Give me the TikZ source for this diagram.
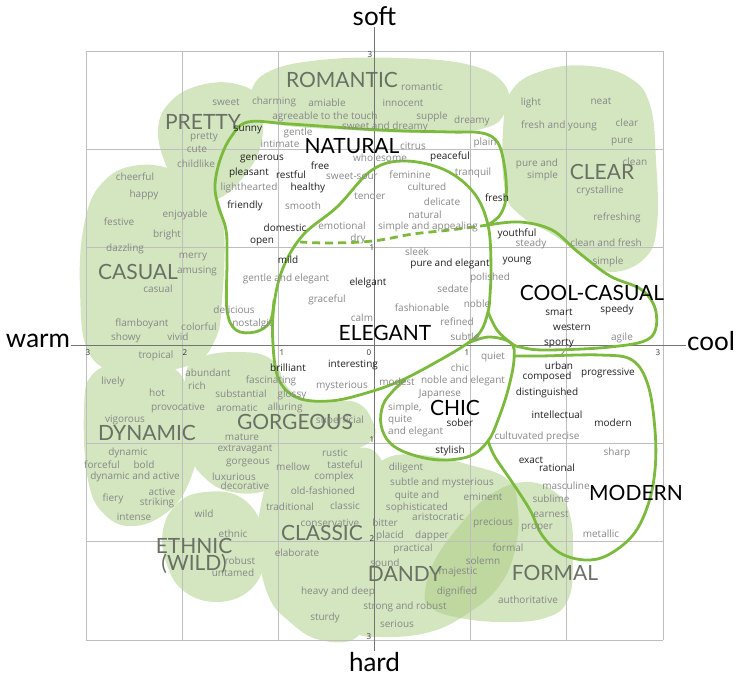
\documentclass[tikz,border=0pt]{standalone}
\usepackage{fontspec}
\setmainfont{Open Sans}
\newfontfamily\catfont{Lato}
\definecolor{blobgreen}{RGB}{212,230,192}
\definecolor{blobdark}{RGB}{190,216,160}
\definecolor{linegreen}{RGB}{124,186,62}
\definecolor{wordgray}{RGB}{135,135,135}
\definecolor{catgray}{RGB}{105,112,100}
\definecolor{gridgray}{RGB}{190,190,190}

% blob outlines (pixel coordinates, y pointing down)
\def\formalpath{plot[smooth cycle, tension=0.7] coordinates {(425,592) (435,560) (460,525) (490,495) (525,482) (555,492) (570,515) (573,560) (568,600) (545,618) (500,622) (455,617) (430,607)}}
\def\dandypath{plot[smooth cycle, tension=0.7] coordinates {(383,460) (420,455) (470,465) (508,480) (518,510) (515,550) (500,585) (470,612) (430,632) (380,637) (352,630) (340,600) (345,540) (360,490)}}

\begin{document}
\begin{tikzpicture}[x=1pt, y=-1pt,
  wd/.style={font=\fontsize{10}{12}\selectfont, text=wordgray, inner sep=0pt},
  wdk/.style={font=\fontsize{10}{12}\selectfont, text=black!88, inner sep=0pt},
  cat/.style={font=\catfont\fontsize{21}{14}\selectfont, text=catgray, inner sep=0pt},
  catk/.style={cat, text=black},
  axlab/.style={font=\catfont\fontsize{26}{26}\selectfont, inner sep=1pt},
  tick/.style={font=\fontsize{8}{8}\selectfont, text=black!80, inner sep=0pt},
  outline/.style={linegreen, line width=2.8pt, line cap=round, line join=round},
  blob/.style={fill=blobgreen}]
  \useasboundingbox (0,0) rectangle (737,677);

  % Green areas
  \fill[blob] plot[smooth cycle, tension=0.7] coordinates {(250,95) (268,72) (320,60) (400,58) (470,65) (505,85) (505,112) (485,128) (430,133) (350,130) (280,125) (255,115)}; % romantic
  \fill[blob] plot[smooth cycle, tension=0.7] coordinates {(158,130) (172,100) (205,84) (240,85) (258,100) (262,140) (245,175) (215,200) (185,195) (168,170)}; % pretty
  \fill[blob] plot[smooth cycle, tension=0.7] coordinates {(80,290) (85,220) (105,180) (140,165) (180,172) (212,190) (224,230) (222,300) (215,340) (190,365) (130,372) (90,355)}; % casual
  \fill[blob] plot[smooth cycle, tension=0.7] coordinates {(503,130) (512,90) (545,70) (590,66) (630,78) (650,105) (656,160) (657,225) (645,258) (612,272) (585,258) (555,236) (520,215) (505,190)}; % clear
  \fill[blob] plot[smooth cycle, tension=0.7] coordinates {(84,410) (92,375) (125,362) (170,366) (190,395) (198,440) (190,480) (170,510) (135,526) (105,515) (88,480)}; % dynamic
  \fill[blob] plot[smooth cycle, tension=0.7] coordinates {(185,380) (200,358) (240,352) (272,360) (290,390) (320,402) (355,402) (372,420) (372,440) (340,455) (300,468) (268,490) (232,492) (205,478) (190,450)}; % gorgeous
  \fill[blob] plot[smooth cycle, tension=0.7] coordinates {(163,530) (178,503) (205,492) (240,497) (262,525) (265,560) (250,590) (218,602) (185,592) (167,565)}; % ethnic
  \fill[blob] plot[smooth cycle, tension=0.7] coordinates {(262,500) (275,470) (310,452) (350,448) (375,452) (385,480) (372,530) (365,600) (357,637) (320,640) (290,622) (268,595) (258,545)}; % classic
  \fill[blob] \dandypath;
  \fill[blob] \formalpath;
  \begin{scope}
    \clip \formalpath;
    \fill[blobdark] \dandypath;
  \end{scope}

  % Grid
  \foreach \gx in {86,182.2,278.3,374.5,470.7,566.8,663}
    \draw[gridgray, line width=0.9pt] (\gx,51) -- (\gx,640);
  \foreach \gy in {51,149.2,247.3,345.5,443.7,541.8,640}
    \draw[gridgray, line width=0.9pt] (86,\gy) -- (663,\gy);

  % Axes
  \node[axlab] (soft) at (374.5,16) {soft};
  \node[axlab] (hard) at (374.5,662) {hard};
  \node[axlab] (warm) at (38,341) {warm};
  \node[axlab] (cool) at (711,341) {cool};
  \draw[black!55, line width=1.1pt] (warm.east |- 0,345.5) -- (cool.west |- 0,345.5);
  \draw[black!55, line width=1.1pt] (soft.south) -- (hard.north);
  \foreach \tx/\ty/\tn [count=\i] in {88/353/3, 185/353/2, 282/353/1, 369/353/0, 467/353/1, 563/353/2, 658/353/3,
      370/55/3, 372/248/1, 372/440/1, 372/539/2, 369/637/3}
    \node[tick] (t\i) at (\tx,\ty) {\tn};

  % Outlines
  \draw[outline] plot[smooth cycle, tension=0.6] coordinates {(337,207) (372,170) (405,161) (445,170) (474,193) (488,225) (491,265) (490,295) (488,312) (481,331) (468,343) (440,360) (400,381) (363,394) (330,401) (298,398) (279,380) (273,345) (274,305) (283,268) (303,235)}; % elegant
  \draw[outline] plot[smooth, tension=0.6] coordinates {(274,300) (270,322) (255,332) (236,330) (227,310) (227,260) (226,230) (218,205) (215,185) (220,160) (231,137) (248,122) (290,124) (380,130) (450,132) (482,133) (498,143) (505,170) (506,198) (500,215) (488,225)}; % natural
  \draw[outline, dash pattern=on 8pt off 5pt, line cap=butt] plot[smooth, tension=0.6] coordinates {(488,225) (450,230) (413,234) (373,241) (330,243) (300,242)};
  \draw[outline] plot[smooth, tension=0.6] coordinates {(488,225) (520,222) (552,230) (578,252) (610,276) (642,290) (656,312) (650,338) (610,347) (545,350) (520,347) (511,343) (497,330) (488,312)}; % cool-casual
  \draw[outline] plot[smooth, tension=0.6] coordinates {(468,343) (489,337) (511,343) (514,360) (508,390) (498,420) (488,441) (470,456) (440,460) (410,454) (390,443) (381,425) (383,405) (393,391) (405,380)}; % chic
  \draw[outline] plot[smooth, tension=0.6] coordinates {(514,356) (540,356) (600,355) (632,360) (648,385) (655,430) (655,470) (648,505) (633,535) (608,555) (585,560) (560,553) (542,535) (530,510) (512,482) (495,457) (488,441)}; % modern

  % Category names
  \node[cat] (romantic) at (342,80) {ROMANTIC};
  \node[cat] (pretty) at (203,122) {PRETTY};
  \node[cat] (clear) at (602,172) {CLEAR};
  \node[cat] (casual) at (138,272) {CASUAL};
  \node[cat] (dynamic) at (147,433) {DYNAMIC};
  \node[cat] (gorgeous) at (295,422) {GORGEOUS};
  \node[cat, align=center] (ethnic) at (194,556) {ETHNIC\\(WILD)};
  \node[cat] (classic) at (322,533) {CLASSIC};
  \node[cat] (dandy) at (405,574) {DANDY};
  \node[cat] (formal) at (555,573) {FORMAL};
  \node[catk] (natural) at (352,146) {NATURAL};
  \node[catk] (elegant) at (385,333) {ELEGANT};
  \node[catk] (coolcasual) at (592,293) {COOL-CASUAL};
  \node[catk] (chic) at (455,408) {CHIC};
  \node[catk] (modern) at (636,493) {MODERN};

  % Gray words
  \foreach \px/\py/\txt [count=\i] in {226/102/sweet, 274/102/charming, 204/137/pretty, 197/149/cute,
      196/164/childlike, 249/188/lighthearted, 280/144/intimate, 298/133/gentle, 135/177/cheerful,
      144/195/happy, 422/87/romantic, 327/103/amiable, 403/103/innocent, 325/117/agreeable to the touch,
      432/117/supple, 472/121/dreamy, 385/127/sweet and dreamy, 413/146/citrus, 485/143/plain,
      380/158/wholesome, 352/176/sweet-sour, 410/175/feminine, 473/173/tranquil, 427/187/cultured,
      370/196/tender, 442/202/delicate, 303/206/smooth, 531/103/light, 601/101/neat,
      559/126/fresh and young, 627/123/clear, 622/142/pure, 635/162/clean, 600/191/crystalline,
      119/222/festive, 185/215/enjoyable, 167/235/bright, 125/249/dazzling, 193/257/merry,
      197/271/amusing, 286/279/gentle and elegant, 158/289/casual, 234/310/delicious,
      253/324/nostalgic, 142/324/flamboyant, 199/327/colorful, 126/338/showy, 178/337/vivid,
      156/356/tropical, 425/215/natural, 342/226/emotional, 428/227/simple and appealing,
      358/239/dry, 417/252/sleek, 490/278/polished, 453/289/sedate, 327/300/graceful,
      422/308/fashionable, 477/304/noble, 362/318/calm, 457/322/refined, 465/337/subtle,
      493/357/quiet, 531/244/steady, 617/218/refreshing, 606/243/clean and fresh, 608/262/simple,
      622/338/agile, 208/373/abundant, 113/382/lively, 197/386/rich, 271/381/fascinating,
      157/393/hot, 241/394/substantial, 292/395/glossy, 178/408/provocative, 237/408/aromatic,
      285/408/alluring, 125/420/vigorous, 340/421/superficial, 242/437/mature, 128/453/dynamic,
      245/449/extravagant, 102/465/forceful, 144/465/bold, 248/463/gorgeous, 293/467/mellow,
      135/477/dynamic and active, 234/477/luxurious, 245/486/decorative, 162/492/active,
      113/499/fiery, 157/503/striking, 134/517/intense, 204/514/wild, 290/507/traditional,
      342/386/mysterious, 397/382/modest, 460/368/chic, 463/381/noble and elegant, 440/394/Japanese,
      335/453/rustic, 345/465/tasteful, 334/477/complex, 406/468/diligent, 323/491/old-fashioned,
      442/483/subtle and mysterious, 483/497/eminent, 345/506/classic, 438/517/aristocratic,
      537/437/cultuvated precise, 617/453/sharp, 566/486/masculine, 551/499/sublime, 551/514/earnest,
      233/534/ethnic, 240/561/robust, 233/573/untamed, 297/553/elaborate, 330/523/conservative,
      385/523/bitter, 493/523/precious, 390/536/placid, 432/536/dapper, 508/548/formal,
      413/549/practical, 483/561/solemn, 385/563/sound, 458/572/majestic, 338/592/heavy and deep,
      457/592/dignified, 528/600/authoritative, 405/607/strong and robust, 325/618/sturdy,
      397/624/serious, 537/528/proper, 601/534/metallic}
    \node[wd] (g\i) at (\px,\py) {\txt};
  \node[wd, align=right] (pureandsimple) at (537,170) {pure and\\simple};
  \node[wd, align=left, anchor=west] (simplequite) at (388,420) {simple,\\quite\\and elegant};
  \node[wd, align=center] (quiteand) at (417,502) {quite and\\sophisticated};

  % Dark words
  \foreach \px/\py/\txt [count=\i] in {248/130/sunny, 262/159/generous, 249/173/pleasant, 291/175/restful,
      245/206/friendly, 320/166/free, 308/188/healthy, 450/157/peaceful, 497/198/fresh,
      285/228/domestic, 262/242/open, 288/260/mild, 450/264/pure and elegant, 368/283/elelgant,
      517/234/youthful, 517/261/young, 559/312/smart, 617/310/speedy, 572/327/western,
      559/343/sporty, 559/366/urban, 353/365/interesting, 288/368/brilliant, 460/423/sober,
      450/451/stylish, 608/373/progressive, 547/377/composed, 547/393/distinguished,
      557/415/intellectual, 613/423/modern, 531/460/exact, 557/468/rational}
    \node[wdk] (k\i) at (\px,\py) {\txt};
\end{tikzpicture}
\end{document}
